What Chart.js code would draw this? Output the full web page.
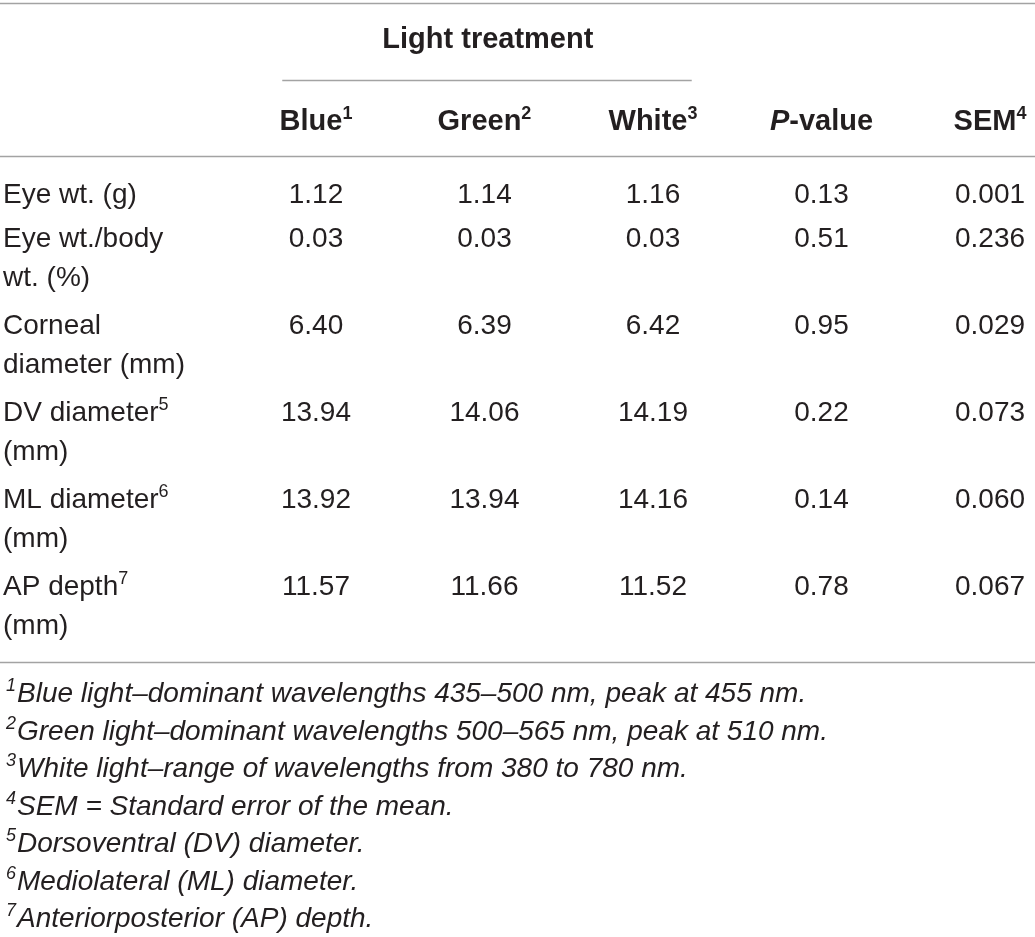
<!DOCTYPE html>
<html>
<head>
<meta charset="utf-8">
<title>Eye measurements by light treatment</title>
<script src="https://cdn.jsdelivr.net/npm/chart.js@4.4.1/dist/chart.umd.min.js"></script>
<style>
  html, body { margin: 0; padding: 0; background: #fff; }
  #eyeTable { display: block; }
</style>
</head>
<body>
<canvas id="eyeTable" width="1035" height="937"></canvas>
<script>
// ---------- Table data ----------- //
const rowLabels = [
  ["Eye wt. (g)"],
  ["Eye wt./body", "wt. (%)"],
  ["Corneal", "diameter (mm)"],
  ["DV diameter", "(mm)"],
  ["ML diameter", "(mm)"],
  ["AP depth", "(mm)"],
];
const rowNotes = ["", "", "", "5", "6", "7"];

const groupTitle = "Light treatment";
const colNames = ["Blue", "Green", "White", "P-value", "SEM"];
const colNotes = ["1", "2", "3", "", "4"];
const decimals = [2, 2, 2, 2, 3];

const blue = [1.12, 0.03, 6.40, 13.94, 13.92, 11.57];
const green = [1.14, 0.03, 6.39, 14.06, 13.94, 11.66];
const white = [1.16, 0.03, 6.42, 14.19, 14.16, 11.52];
const pValue = [0.13, 0.51, 0.95, 0.22, 0.14, 0.78];
const sem = [0.001, 0.236, 0.029, 0.073, 0.060, 0.067];

const footnotes = [
  "Blue light\u2013dominant wavelengths 435\u2013500 nm, peak at 455 nm.",
  "Green light\u2013dominant wavelengths 500\u2013565 nm, peak at 510 nm.",
  "White light\u2013range of wavelengths from 380 to 780 nm.",
  "SEM = Standard error of the mean.",
  "Dorsoventral (DV) diameter.",
  "Mediolateral (ML) diameter.",
  "Anteriorposterior (AP) depth.",
];

// ---------- Layout helpers ----------- //
const FAMILY = '"Liberation Sans", Arial, Helvetica, sans-serif';
const TEXT = "#231f20";
const RULE = "#a3a3a3";
const LINE_H = 39; // second line of a wrapped row label
const BODY = 28;
const HEAD = 29;
const SUP = 18;

// each row starts after the lines of the rows above it
const rowPos = [];
rowLabels.reduce((acc, lines) => {
  rowPos.push(acc);
  return acc + lines.length;
}, 0);

const columns = [blue, green, white, pValue, sem];

function font(size, style) {
  return (style || "") + " " + size + "px " + FAMILY;
}

// draws a list of text pieces (with optional raise for superscripts)
function drawParts(ctx, parts, x, y, align) {
  let total = 0;
  parts.forEach((p) => {
    ctx.font = p.f;
    p.w = ctx.measureText(p.t).width;
    total += p.w;
  });
  let cx = x;
  if (align === "center") cx = x - total / 2;
  if (align === "right") cx = x - total;
  parts.forEach((p) => {
    ctx.font = p.f;
    ctx.fillText(p.t, cx, y - (p.raise || 0));
    cx += p.w;
  });
}

function rule(ctx, x1, x2, y) {
  ctx.beginPath();
  ctx.moveTo(x1, Math.round(y) + 0.5);
  ctx.lineTo(x2, Math.round(y) + 0.5);
  ctx.stroke();
}

// ---------- Table text plugin ----------- //
const tableText = {
  id: "tableText",
  afterDatasetsDraw(chart) {
    const { ctx, chartArea, scales } = chart;
    const x = scales.x;
    const y = scales.y;
    ctx.save();
    ctx.fillStyle = TEXT;
    ctx.textBaseline = "alphabetic";

    // rules
    ctx.strokeStyle = RULE;
    ctx.lineWidth = 1.6;
    rule(ctx, chartArea.left, chartArea.right, y.getPixelForValue(-4.59));
    rule(ctx, x.getPixelForValue(0.8), x.getPixelForValue(3.23), y.getPixelForValue(-2.82));
    rule(ctx, chartArea.left, chartArea.right, y.getPixelForValue(-1.07));
    rule(ctx, chartArea.left, chartArea.right, y.getPixelForValue(10.53));

    // spanning header
    drawParts(ctx, [{ t: groupTitle, f: font(HEAD, "bold") }],
      x.getPixelForValue(2.02), y.getPixelForValue(-3.56), "center");

    // column headers
    colNames.forEach((name, i) => {
      const parts = [];
      if (name.startsWith("P-")) {
        parts.push({ t: "P", f: font(HEAD, "italic bold") });
        parts.push({ t: name.slice(1), f: font(HEAD, "bold") });
      } else {
        parts.push({ t: name, f: font(HEAD, "bold") });
      }
      if (colNotes[i]) parts.push({ t: colNotes[i], f: font(SUP, "bold"), raise: 11 });
      drawParts(ctx, parts, x.getPixelForValue(i + 1), y.getPixelForValue(-1.68), "center");
    });

    // row labels
    rowLabels.forEach((lines, r) => {
      const base = y.getPixelForValue(rowPos[r]);
      lines.forEach((line, k) => {
        const parts = [{ t: line, f: font(BODY) }];
        if (k === 0 && rowNotes[r]) parts.push({ t: rowNotes[r], f: font(SUP), raise: 11 });
        drawParts(ctx, parts, chartArea.left + 3, base + k * LINE_H, "left");
      });
    });

    // cell values, placed on the points the scatter dataset put there
    chart.data.datasets.forEach((ds, di) => {
      const meta = chart.getDatasetMeta(di);
      meta.data.forEach((pt, i) => {
        const txt = ds.data[i].v.toFixed(decimals[di]);
        drawParts(ctx, [{ t: txt, f: font(BODY) }], pt.x, pt.y, "center");
      });
    });

    // footnotes
    footnotes.forEach((note, k) => {
      const by = y.getPixelForValue(11.45 + k * 0.86);
      drawParts(ctx, [{ t: String(k + 1), f: font(SUP, "italic"), raise: 11 }],
        chartArea.left + 16, by, "right");
      drawParts(ctx, [{ t: note, f: font(BODY, "italic") }], chartArea.left + 17, by, "left");
    });

    ctx.restore();
  },
};

// ---------- Chart ----------- //
new Chart(document.getElementById("eyeTable"), {
  type: "scatter",
  data: {
    datasets: columns.map((values, c) => ({
      label: colNames[c],
      data: values.map((v, r) => ({ x: c + 1, y: rowPos[r], v: v })),
      pointRadius: 0,
      pointHoverRadius: 0,
    })),
  },
  options: {
    responsive: false,
    animation: false,
    devicePixelRatio: 1,
    layout: { padding: 0 },
    events: [],
    plugins: {
      legend: { display: false },
      tooltip: { enabled: false },
    },
    scales: {
      x: { type: "linear", display: false, min: -0.875, max: 5.267 },
      y: { type: "linear", display: false, reverse: true, min: -4.656, max: 16.835 },
    },
  },
  plugins: [tableText],
});
</script>
</body>
</html>
